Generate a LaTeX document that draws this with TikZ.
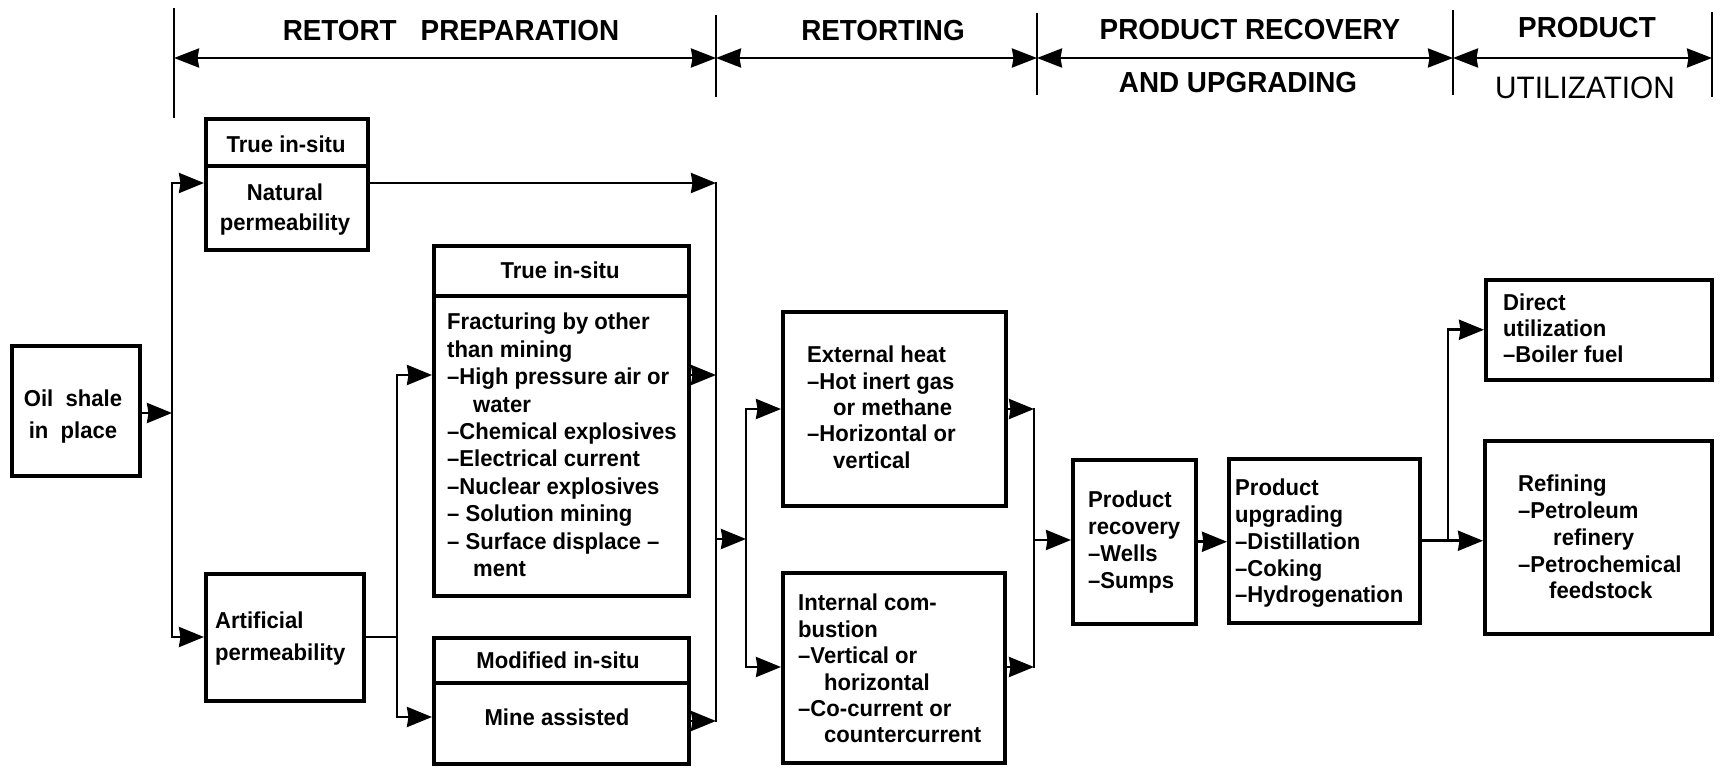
\documentclass[tikz,border=0pt]{standalone}
\usepackage{fontspec}
\setmainfont{Liberation Sans}[FakeStretch=0.96]
\usetikzlibrary{arrows.meta}
\begin{document}
\begin{tikzpicture}[x=1pt,y=-1pt,
  box/.style={draw,line width=3.5pt,inner sep=0pt,anchor=north west},
  conn/.style={line width=2.8pt,line cap=rect},
  arr/.style={conn,-{Stealth[length=25pt,width=20pt,inset=1.5pt]}},
  darr/.style={conn,{Stealth[length=25pt,width=20pt,inset=1.5pt]}-{Stealth[length=25pt,width=20pt,inset=1.5pt]}},
  hline/.style={line width=2.3pt},
  harr/.style={line width=2.6pt,{Stealth[length=25pt,width=19pt,inset=1.5pt]}-{Stealth[length=25pt,width=19pt,inset=1.5pt]}},
  hdr/.style={inner sep=0pt,font=\fontsize{29}{32}\selectfont\bfseries},
  hdrl/.style={inner sep=0pt,font=\fontsize{#1}{32}\selectfont},
  tx/.style={inner sep=0pt,align=left,anchor=north west,font=\fontsize{23}{#1}\selectfont\bfseries},
  tx/.default=27,
  ctx/.style={inner sep=0pt,align=center,font=\fontsize{23}{#1}\selectfont\bfseries},
  ctx/.default=27]
\useasboundingbox (0,0) rectangle (1721,768);

% ---------- header ----------
\coordinate (h1t) at (174,8);   \coordinate (h1b) at (174,118); \coordinate (h1) at (174,58);
\coordinate (h2t) at (716,15);  \coordinate (h2b) at (716,97);  \coordinate (h2) at (716,58);
\coordinate (h3t) at (1037,13); \coordinate (h3b) at (1037,95); \coordinate (h3) at (1037,58);
\coordinate (h4t) at (1453,10); \coordinate (h4b) at (1453,95); \coordinate (h4) at (1453,58);
\coordinate (h5t) at (1712,12); \coordinate (h5b) at (1712,97); \coordinate (h5) at (1712,58);
\draw[hline] (h1t) -- (h1b);
\draw[hline] (h2t) -- (h2b);
\draw[hline] (h3t) -- (h3b);
\draw[hline] (h4t) -- (h4b);
\draw[hline] (h5t) -- (h5b);
\draw[harr] (h1) -- (h2);
\draw[harr] (h2) -- (h3);
\draw[harr] (h3) -- (h4);
\draw[harr] (h4) -- (h5);
\node[hdr] (hA) at (451,31) {RETORT\hspace*{24pt}PREPARATION};
\node[hdr] (hB) at (883,31) {RETORTING};
\node[hdr] (hC) at (1250,30) {PRODUCT RECOVERY};
\node[hdr] (hD) at (1238,83) {AND UPGRADING};
\node[hdr] (hE) at (1587,28) {PRODUCT};
\node[hdrl=31] (hF) at (1585,88) {UTILIZATION};

% ---------- boxes ----------
\node[box,minimum width=128pt,minimum height=130pt] (oil) at (10,344) {};
\node[box,minimum width=162pt,minimum height=47pt] (tis1h) at (204,117) {};
\node[box,minimum width=162pt,minimum height=84pt] (nat) at (204,164) {};
\node[box,minimum width=158pt,minimum height=127pt] (art) at (204,572) {};
\node[box,minimum width=255pt,minimum height=50pt] (tis2h) at (432,244) {};
\node[box,minimum width=255pt,minimum height=300pt] (tis2b) at (432,294) {};
\node[box,minimum width=255pt,minimum height=45pt] (modh) at (432,636) {};
\node[box,minimum width=255pt,minimum height=81pt] (modb) at (432,681) {};
\node[box,minimum width=223pt,minimum height=194pt] (ext) at (781,310) {};
\node[box,minimum width=222pt,minimum height=190pt] (int) at (781,571) {};
\node[box,minimum width=123pt,minimum height=164pt] (rec) at (1071,458) {};
\node[box,minimum width=191pt,minimum height=164pt] (upg) at (1227,457) {};
\node[box,minimum width=226pt,minimum height=100pt] (dir) at (1484,278) {};
\node[box,minimum width=227pt,minimum height=193pt] (ref) at (1483,439) {};

% ---------- texts ----------
\node[ctx=32,anchor=north] (oilt) at (73,390) {Oil\ \ shale\\in\ \ place};
\node[ctx] (tis1ht) at (286,144) {True in-situ};
\node[ctx=30,anchor=north] (natt) at (285,184) {Natural\\permeability};
\node[tx=32] (artt) at (215,612) {Artificial\\permeability};
\node[ctx] (tis2ht) at (560,270) {True in-situ};
\node[tx=27.4] (tis2bt) at (447,313) {Fracturing by other\\than mining\\--High pressure air or\\\hspace*{26pt}water\\--Chemical explosives\\--Electrical current\\--Nuclear explosives\\-- Solution mining\\-- Surface displace --\\\hspace*{26pt}ment};
\node[ctx] (modht) at (558,660) {Modified in-situ};
\node[ctx] (modbt) at (557,717) {Mine assisted};
\node[tx=26.3] (extt) at (807,346) {External heat\\--Hot inert gas\\\hspace*{26pt}or methane\\--Horizontal or\\\hspace*{26pt}vertical};
\node[tx=26.4] (intt) at (798,594) {Internal com-\\bustion\\--Vertical or\\\hspace*{26pt}horizontal\\--Co-current or\\\hspace*{26pt}countercurrent};
\node[tx=27] (rect) at (1088,491) {Product\\recovery\\--Wells\\--Sumps};
\node[tx=26.75] (upgt) at (1235,479) {Product\\upgrading\\--Distillation\\--Coking\\--Hydrogenation};
\node[tx=26] (dirt) at (1503,294) {Direct\\utilization\\--Boiler fuel};
\node[tx=26.75] (reft) at (1518,475) {Refining\\--Petroleum\\\hspace*{35pt}refinery\\--Petrochemical\\\hspace*{31pt}feedstock};

% ---------- connectors ----------
\coordinate (j1t) at (172,183); \coordinate (j1m) at (172,413); \coordinate (j1b) at (172,637);
\coordinate (j2t) at (716,183); \coordinate (j2m) at (716,539); \coordinate (j2b) at (716,721);
\coordinate (j3t) at (397,375); \coordinate (j3m) at (397,637); \coordinate (j3b) at (397,717);
\coordinate (j4t) at (746,409); \coordinate (j4m) at (746,539); \coordinate (j4b) at (746,667);
\coordinate (j5t) at (1034,409); \coordinate (j5m) at (1034,540); \coordinate (j5b) at (1034,667);
\coordinate (j6) at (1448,539);

\draw[arr] (oil.east |- j1m) -- (j1m);
\draw[darr] (art.west |- j1b) -- (j1b) -- (j1t) -- (nat.west |- j1t);
\draw[arr] (nat.east |- j2t) -- (j2t);
\draw[conn] (j2t) -- (j2b);
\draw[conn] (art.east |- j3m) -- (j3m);
\draw[darr] (tis2b.west |- j3t) -- (j3t) -- (j3b) -- (modb.west |- j3b);
\draw[arr] (tis2b.east |- j3t) -- (j2t |- j3t);
\draw[arr] (modb.east |- j2b) -- (j2b);
\draw[arr] (j2m) -- (j4m);
\draw[darr] (ext.west |- j4t) -- (j4t) -- (j4b) -- (int.west |- j4b);
\draw[arr] (ext.east |- j5t) -- (j5t);
\draw[arr] (int.east |- j5b) -- (j5b);
\draw[conn] (j5t) -- (j5b);
\draw[arr] (j5m) -- (rec.west |- j5m);
\draw[arr] (rec.east) -- (upg.west |- rec.east);
\draw[arr] (upg.east) -- (ref.west |- upg.east);
\draw[arr] (j6) |- (dir.west);
\end{tikzpicture}
\end{document}
